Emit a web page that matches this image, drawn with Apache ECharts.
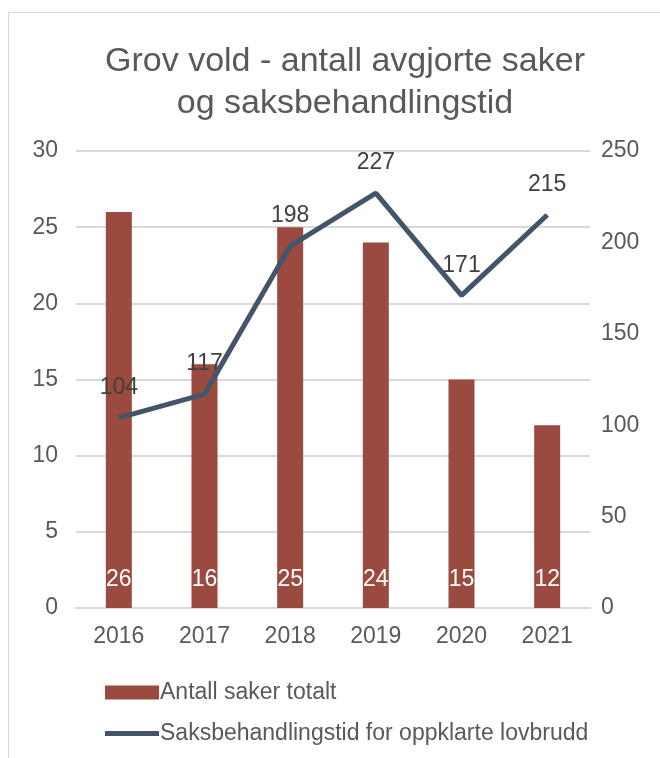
<!DOCTYPE html>
<html lang="no">
<head>
    <meta charset="UTF-8">
    <title>Grov vold</title>
    <style>
        * { margin: 0; padding: 0; box-sizing: border-box; }
        html, body { width: 660px; height: 758px; background: #fff; }
        #box { width: 660px; height: 758px; }
    </style>
    <script src="https://cdn.jsdelivr.net/npm/echarts@6/dist/echarts.min.js"></script>
</head>
<body>
    <div id="box"></div>
    <script>
        var years = ['2016', '2017', '2018', '2019', '2020', '2021'];
        var antallSaker = [26, 16, 25, 24, 15, 12];
        var behandlingstid = [104, 117, 198, 227, 171, 215];

        var font = "'Liberation Sans', sans-serif";
        var myChart = echarts.init(document.getElementById('box'));

        myChart.setOption({
            animation: false,
            textStyle: { fontFamily: font },
            graphic: [{
                type: 'rect',
                shape: { x: 8.5, y: 12.5, width: 700, height: 800 },
                style: { fill: 'none', stroke: '#d9d9d9', lineWidth: 1 },
                silent: true
            }],
            title: {
                text: 'Grov vold - antall avgjorte saker\nog saksbehandlingstid',
                left: 340,
                top: 36,
                textAlign: 'center',
                textStyle: { fontFamily: font, fontSize: 34, fontWeight: 'normal', color: '#595959', lineHeight: 42 }
            },
            legend: {
                orient: 'vertical',
                left: 100,
                top: 676,
                itemGap: 18,
                itemWidth: 54,
                itemHeight: 14,
                textStyle: { fontFamily: font, fontSize: 23, color: '#595959', padding: [0, 0, 0, -4] },
                data: [
                    { name: 'Antall saker totalt', icon: 'rect' },
                    { name: 'Saksbehandlingstid for oppklarte lovbrudd', icon: 'path://M0,0 L54,0 L54,5 L0,5 Z', itemStyle: { color: '#44546a' } }
                ]
            },
            grid: { left: 76, right: 70, top: 151, bottom: 150 },
            xAxis: {
                type: 'category',
                data: years,
                axisLine: { lineStyle: { color: '#d9d9d9', width: 2 } },
                axisTick: { show: false },
                axisLabel: { fontFamily: font, fontSize: 23, color: '#595959', margin: 17 }
            },
            yAxis: [{
                type: 'value',
                min: 0, max: 30, interval: 5,
                axisLabel: { fontFamily: font, fontSize: 23, color: '#595959', margin: 18 },
                splitLine: { lineStyle: { color: '#d9d9d9', width: 2 } }
            }, {
                type: 'value',
                min: 0, max: 250, interval: 50,
                axisLabel: { fontFamily: font, fontSize: 23, color: '#595959', margin: 11 },
                splitLine: { show: false }
            }],
            series: [{
                name: 'Antall saker totalt',
                type: 'bar',
                data: antallSaker,
                barWidth: 26,
                itemStyle: { color: '#9a4a3e' },
                label: {
                    show: true,
                    position: 'insideBottom',
                    distance: 17,
                    color: '#fff',
                    fontFamily: font,
                    fontSize: 23
                }
            }, {
                name: 'Saksbehandlingstid for oppklarte lovbrudd',
                type: 'line',
                yAxisIndex: 1,
                data: behandlingstid,
                symbol: 'circle',
                symbolSize: 1,
                lineStyle: { color: '#44546a', width: 5 },
                itemStyle: { color: '#44546a' },
                z: 5,
                label: {
                    show: true,
                    position: 'top',
                    distance: 18,
                    color: '#404040',
                    fontFamily: font,
                    fontSize: 23
                }
            }]
        });

        window.onresize = function () {
            myChart.resize();
        };
    </script>
</body>
</html>
